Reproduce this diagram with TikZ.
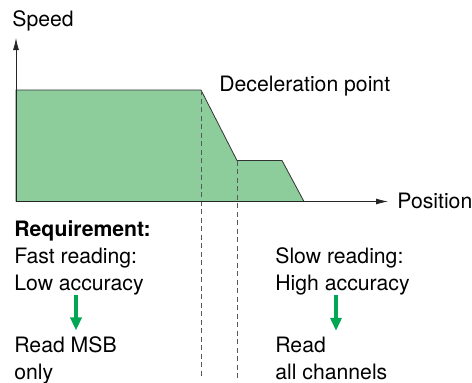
\documentclass[tikz,border=0pt]{standalone}
\usepackage{fontspec}
\setmainfont{TeX Gyre Heros}
\usetikzlibrary{arrows.meta}
\definecolor{speedfill}{RGB}{140,205,155}
\definecolor{arrowgreen}{RGB}{0,166,81}

\begin{document}
\begin{tikzpicture}[x=1pt,y=-1pt,line width=.8pt,
  lbl/.style={anchor=base west,inner sep=0pt,font=\fontsize{21.2}{25}\selectfont},
  axisline/.style={black!85,line width=.8pt,-{Latex[length=12pt,width=6pt]}},
  guide/.style={black!65,line width=.7pt,dash pattern=on 5pt off 3.5pt},
  resarrow/.style={arrowgreen,line width=3.3pt,-{Triangle[length=13pt,width=11pt]}}]
\path[use as bounding box] (0,0) rectangle (472,383);
% speed profile
\coordinate (o) at (16,201.5);
\coordinate (ytop) at (16,38);
\coordinate (xend) at (388,201.5);
\coordinate (brk1) at (201,90);
\coordinate (brk2) at (237,160.5);
\draw[fill=speedfill,draw=black!80] (o) -- (16,90) -- (brk1) -- (brk2) -- (282,160.5) -- (304,201.5);
\draw[guide] (brk1) -- (brk1 |- 0,378);
\draw[guide] (brk2) -- (brk2 |- 0,378);
\draw[axisline] (o) -- (ytop);
\draw[axisline] (o) -- (xend);
\node[lbl] (speed) at (12,26) {Speed};
\node[lbl] (pos) at (397,208) {Position};
\node[lbl] (decel) at (219,91) {Deceleration point};
% left column
\node[lbl] (req) at (14,236) {\textbf{Requirement:}};
\node[lbl] (fastread) at (14,263) {Fast reading:};
\node[lbl] (lowacc) at (14,290) {Low accuracy};
\node[lbl] (readmsb) at (14,352.7) {Read MSB};
\node[lbl] (only) at (14,379) {only};
\draw[resarrow] ([xshift=62pt]lowacc.south west) -- ([xshift=62pt,yshift=6pt]readmsb.north west);
% right column
\node[lbl] (slowread) at (275,263) {Slow reading:};
\node[lbl] (highacc) at (275,290) {High accuracy};
\node[lbl] (readall) at (275,352.7) {Read};
\node[lbl] (allch) at (275,379) {all channels};
\draw[resarrow] ([xshift=61pt]highacc.south west) -- ([xshift=61pt,yshift=6pt]readall.north west);
\end{tikzpicture}
\end{document}
